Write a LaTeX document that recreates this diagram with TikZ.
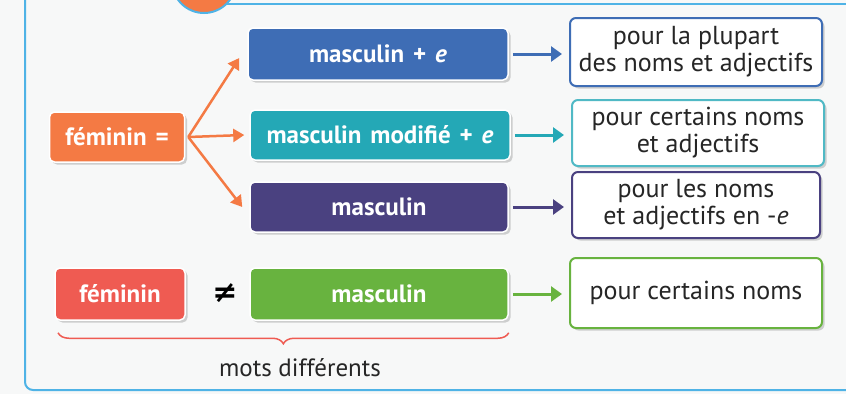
\documentclass[tikz,border=0pt]{standalone}
\usepackage{fontspec}
\setmainfont{PT Sans}
\newfontfamily\boxfont[WordSpace=1.4]{PT Sans}
\newfontfamily\symfont{DejaVu Sans}
\usetikzlibrary{arrows.meta,decorations.pathreplacing,shadows}
\definecolor{bgc}{HTML}{F7F8F8}
\definecolor{framec}{HTML}{4FB3E6}
\definecolor{orangec}{HTML}{F47A44}
\definecolor{bluec}{HTML}{3E6DB5}
\definecolor{tealc}{HTML}{24A8B6}
\definecolor{purplec}{HTML}{4A4180}
\definecolor{redc}{HTML}{EF5B52}
\definecolor{greenc}{HTML}{68B33F}
\definecolor{textc}{HTML}{262626}
\tikzset{
  cbox/.style={rounded corners=5pt, draw=white, line width=1.5pt, text=white,
    font=\boxfont\bfseries\fontsize{25}{27}\selectfont, align=center, inner sep=0pt,
    drop shadow={shadow xshift=2.5pt, shadow yshift=-2.5pt, opacity=0.35}},
  rbox/.style={rounded corners=6pt, fill=white, line width=2pt, text=textc,
    font=\fontsize{26}{27}\selectfont, align=center, inner sep=0pt,
    drop shadow={shadow xshift=2.5pt, shadow yshift=-2.5pt, opacity=0.35}},
  oarrow/.style={draw=orangec, line width=2.5pt, -{Triangle[length=11pt,width=13pt]}},
  carrow/.style={line width=3pt, -{Triangle[length=11pt,width=15pt]}},
}
\begin{document}
\begin{tikzpicture}[x=1pt,y=-1pt]
\useasboundingbox (0,0) rectangle (846,394);
\clip (0,0) rectangle (846,394);
\fill[bgc] (0,0) rectangle (846,394);
% frame
\draw[framec, line width=2pt, rounded corners=8pt] (25,-10) -- (25,390) -- (860,390);
\draw[framec, line width=2pt] (225,4) -- (860,4);
\filldraw[fill=orangec, draw=framec, line width=2pt] (204,-19) circle (32pt);
% colored boxes
\node[cbox, fill=orangec, minimum width=135pt, minimum height=50pt] (fem) at (117,137) {féminin =};
\node[cbox, fill=bluec, minimum width=260pt, minimum height=52pt] (m1) at (378,54) {masculin + \textit{e}};
\node[cbox, fill=tealc, minimum width=260pt, minimum height=50pt] (m2) at (380,135) {masculin modifié + \textit{e}};
\node[cbox, fill=purplec, minimum width=258pt, minimum height=50pt] (m3) at (379,207) {masculin};
\node[cbox, fill=redc, minimum width=130pt, minimum height=52pt] (f2) at (120,294) {féminin};
\node[cbox, fill=greenc, minimum width=258pt, minimum height=52pt] (m4) at (379,294) {masculin};
\node[font=\symfont\bfseries\fontsize{30}{30}\selectfont, text=black] (neq) at (225,293) {≠};
% right boxes
\node[rbox, draw=bluec, minimum width=252pt, minimum height=68pt] (r1) at (696,52) {pour la plupart\\des noms et adjectifs};
\node[rbox, draw=tealc!80, minimum width=252pt, minimum height=66pt] (r2) at (698,133) {pour certains noms\\et adjectifs};
\node[rbox, draw=purplec, minimum width=248pt, minimum height=66pt] (r3) at (696,205) {pour les noms\\et adjectifs en -\textit{e}};
\node[rbox, draw=greenc, minimum width=252pt, minimum height=70pt] (r4) at (696,293) {pour certains noms};
% orange arrows
\coordinate (fork) at ([xshift=3pt]fem.east);
\draw[oarrow] (fork) -- ([xshift=-8pt,yshift=-4pt]m1.west);
\draw[oarrow] (fork) -- ([xshift=-5pt]m2.west);
\draw[oarrow] (fork) -- ([xshift=-7pt]m3.west);
% right arrows
\draw[carrow, draw=bluec] ([xshift=4pt]m1.east) -- ([xshift=-7pt]r1.west |- m1.east);
\draw[carrow, draw=tealc] ([xshift=4pt]m2.east) -- ([xshift=-7pt]r2.west |- m2.east);
\draw[carrow, draw=purplec] ([xshift=4pt]m3.east) -- ([xshift=-7pt]r3.west |- m3.east);
\draw[carrow, draw=greenc] ([xshift=4pt]m4.east) -- ([xshift=-7pt]r4.west |- m4.east);
% brace
\draw[redc, line width=1.5pt, decorate, decoration={brace, mirror, amplitude=11pt}]
  ([xshift=-62pt,yshift=-12pt]f2.south) -- ([yshift=-12pt]m4.south east);
\node[text=textc, font=\fontsize{25}{27}\selectfont] (mots) at (300,368) {mots différents};
\end{tikzpicture}
\end{document}
